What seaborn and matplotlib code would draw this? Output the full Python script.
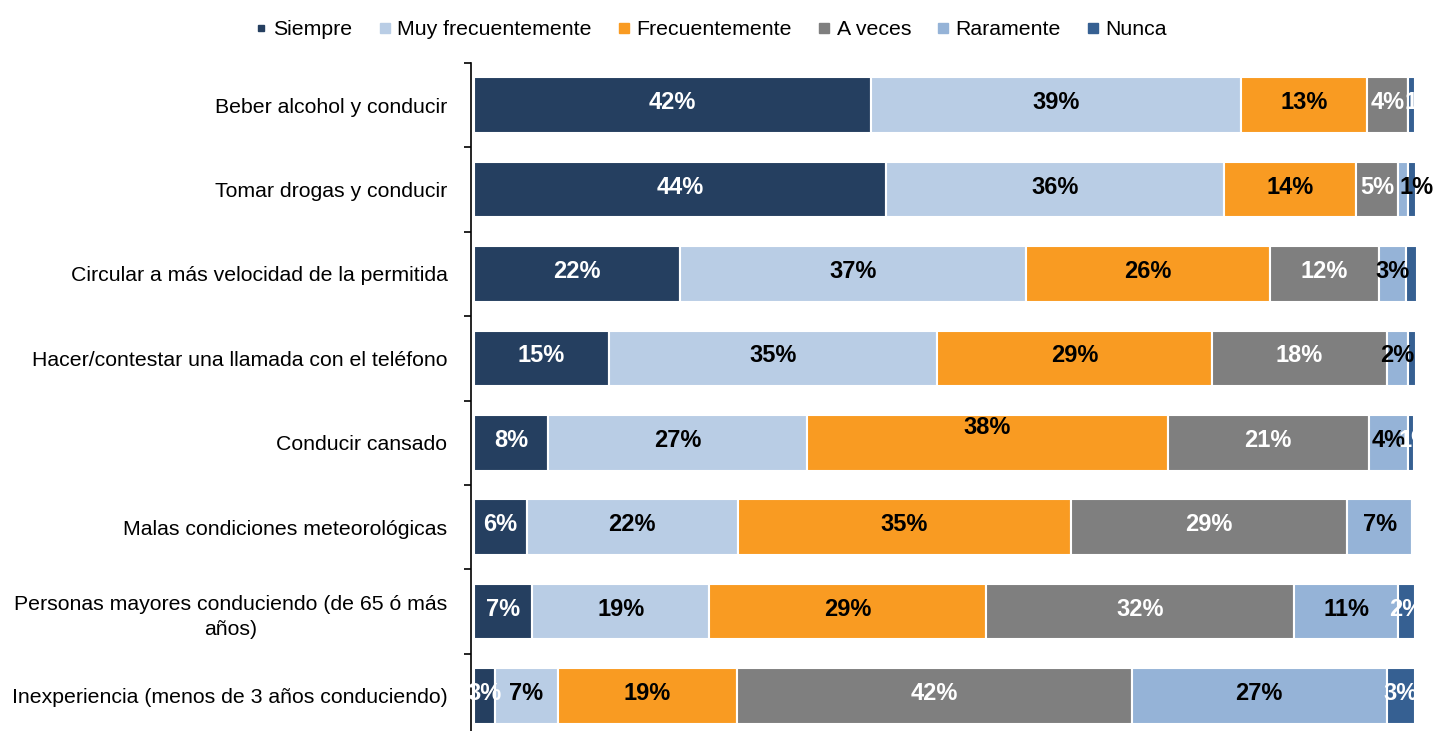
import numpy as np
import pandas as pd
import matplotlib
matplotlib.use("Agg")
import matplotlib.pyplot as plt
from matplotlib.lines import Line2D
import seaborn as sns

sns.set_theme(style="white")
plt.rcParams['font.family'] = ['Liberation Sans', 'DejaVu Sans']
plt.rcParams['text.color'] = 'black'
plt.rcParams['ytick.color'] = 'black'

categories = [
    "Beber alcohol y conducir",
    "Tomar drogas y conducir",
    "Circular a más velocidad de la permitida",
    "Hacer/contestar una llamada con el teléfono",
    "Conducir cansado",
    "Malas condiciones meteorológicas",
    "Personas mayores conduciendo (de 65 ó más\naños)",
    "Inexperiencia (menos de 3 años conduciendo)",
]
series = ["Siempre", "Muy frecuentemente", "Frecuentemente", "A veces", "Raramente", "Nunca"]

siempre = [42.0, 43.6, 21.8, 14.3, 7.9, 5.6, 6.2, 2.2]
muy_frec = [39.2, 35.8, 36.6, 34.7, 27.4, 22.3, 18.7, 6.7]
frecuente = [13.3, 13.9, 25.8, 29.1, 38.1, 35.3, 29.3, 18.9]
a_veces = [4.4, 4.5, 11.6, 18.5, 21.3, 29.2, 32.6, 41.8]
raramente = [0.0, 1.1, 2.8, 2.3, 4.2, 6.9, 11.0, 27.0]
nunca = [0.7, 0.8, 1.2, 0.8, 0.6, 0.0, 1.8, 3.0]

lab_siempre = ["42%", "44%", "22%", "15%", "8%", "6%", "7%", "3%"]
lab_muy = ["39%", "36%", "37%", "35%", "27%", "22%", "19%", "7%"]
lab_frec = ["13%", "14%", "26%", "29%", "38%", "35%", "29%", "19%"]
lab_aveces = ["4%", "5%", "12%", "18%", "21%", "29%", "32%", "42%"]
lab_rar = ["", "1%", "3%", "2%", "4%", "7%", "11%", "27%"]
lab_nunca = ["1%", "", "", "", "1%", "", "2%", "3%"]

colors = ["#253F60", "#B9CDE5", "#F99B22", "#7F7F7F", "#95B3D7", "#366092"]
label_colors = ["white", "black", "black", "white", "black", "white"]

values = [siempre, muy_frec, frecuente, a_veces, raramente, nunca]
labels = [lab_siempre, lab_muy, lab_frec, lab_aveces, lab_rar, lab_nunca]

fig = plt.figure(figsize=(14.37, 7.31), dpi=100)
ax = fig.add_axes([471 / 1437, 0, 946 / 1437, 668 / 731])

left = np.zeros(len(categories))
for s, vals, col in zip(series, values, colors):
    df = pd.DataFrame({"cat": categories, "val": vals})
    sns.barplot(data=df, x="val", y="cat", order=categories, orient="h",
                color=col, left=left.copy(), width=0.66, errorbar=None,
                edgecolor="white", linewidth=1.5, saturation=1, ax=ax)
    left = left + np.array(vals)

# data labels
left = np.zeros(len(categories))
for si, (vals, labs, lc) in enumerate(zip(values, labels, label_colors)):
    for i, (v, lab) in enumerate(zip(vals, labs)):
        if lab:
            dy = -0.03
            dx = 0.0
            if si == 2 and i == 4:
                dy = -0.18
            if si == 4 and i == 1:
                dx = 1.4
            if si == 5 and i == 0:
                dx = 1.0
            if si == 5 and i == 4:
                dx = 0.5
            ax.text(left[i] + v / 2 + dx, i + dy, lab, ha="center", va="center",
                    fontsize=17, fontweight="bold", color=lc, clip_on=False)
    left = left + np.array(vals)

ax.set_xlabel("")
ax.set_ylabel("")
ax.set_xticks([])
ax.set_yticks(range(len(categories)))
ax.set_yticklabels(categories, fontsize=15.3)
ax.set_yticks(np.arange(-0.5, 8.0, 1.0), minor=True)
ax.set_xlim(-0.3, 99.8)
ax.set_ylim(7.415, -0.5)
ax.tick_params(axis="y", which="major", length=0, pad=17)
ax.tick_params(axis="y", which="minor", length=5, width=1.2, color="black", left=True)
for lbl in ax.get_yticklabels():
    lbl.set_multialignment("center")
    lbl.set_linespacing(1.45)
    lbl.set_color("black")
for sp in ["top", "right", "bottom"]:
    ax.spines[sp].set_visible(False)
ax.spines["left"].set_color("black")
ax.spines["left"].set_linewidth(1.2)

handles = [Line2D([0], [0], marker="s", linestyle="none", markersize=(4.5 if i == 0 else 7),
                  markerfacecolor=c, markeredgecolor=c) for i, c in enumerate(colors)]
fig.legend(handles, series, loc="center", bbox_to_anchor=(0.495, 0.959), ncol=6,
           frameon=False, fontsize=15.3, handlelength=0.5, handletextpad=0.35,
           columnspacing=1.25, borderaxespad=0, labelcolor="black")

fig.savefig("out.png", dpi=100)
